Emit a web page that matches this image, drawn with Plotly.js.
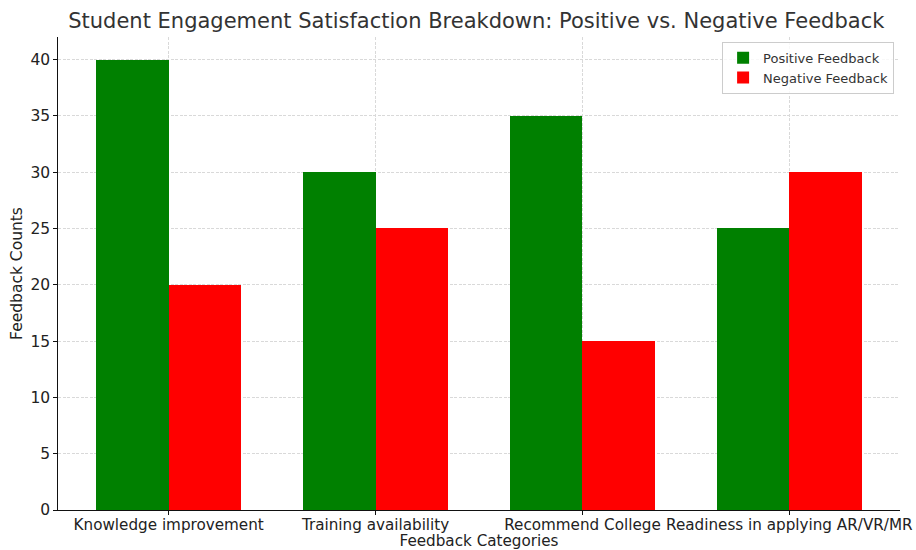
<!DOCTYPE html>
<html>
<head>
<meta charset="utf-8">
<script src="https://cdn.plot.ly/plotly-3.0.1.min.js"></script>
<style>html,body{margin:0;padding:0;background:#fff;}#chart{width:916px;height:550px;}</style>
</head>
<body>
<div id="chart"></div>
<script>
var categories = ["Knowledge improvement", "Training availability", "Recommend College", "Readiness in applying AR/VR/MR"];
var positiveFeedback = [40, 30, 35, 25];
var negativeFeedback = [20, 25, 15, 30];
var yTicks = [0, 5, 10, 15, 20, 25, 30, 35, 40];

var idx = categories.map(function(_, i){ return i; });
var barWidth = 0.35;

var traces = [
  {type: "bar", name: "Positive Feedback", x: idx, y: positiveFeedback,
   offset: -barWidth, width: barWidth, marker: {color: "#008000"}, hoverinfo: "skip"},
  {type: "bar", name: "Negative Feedback", x: idx, y: negativeFeedback,
   offset: 0, width: barWidth, marker: {color: "#ff0000"}, hoverinfo: "skip"}
];

var font = "DejaVu Sans, sans-serif";
var layout = {
  width: 916, height: 550,
  margin: {l: 58, r: 16, t: 37, b: 40},
  paper_bgcolor: "#fff", plot_bgcolor: "#fff",
  font: {family: font, color: "#333333", size: 14},
  title: {text: "Student Engagement Satisfaction Breakdown: Positive vs. Negative Feedback",
          font: {family: font, size: 21, color: "#333333"}, x: 0.52, xanchor: "center",
          yref: "container", y: 0.975, yanchor: "top"},
  bargap: 0,
  showlegend: true,
  legend: {x: 0.993, xanchor: "right", y: 0.99, yanchor: "top",
           bgcolor: "rgba(255,255,255,0.8)", bordercolor: "#cccccc", borderwidth: 1,
           font: {family: font, size: 13, color: "#333333"}, traceorder: "normal",
           tracegroupgap: 0, itemwidth: 30},
  xaxis: {
    range: [-0.535, 3.535], tickmode: "array", tickvals: idx, ticktext: categories,
    showgrid: true, gridcolor: "#d9d9d9", griddash: "3px,1.5px", gridwidth: 1,
    showline: true, linecolor: "#111111", linewidth: 1.2, mirror: false,
    ticks: "outside", ticklen: 3.5, tickcolor: "#111111", zeroline: false,
    ticklabeloverflow: "allow", ticklabelstandoff: -3,
    tickfont: {family: font, size: 15.2, color: "#222222"},
    title: {text: "Feedback Categories", font: {family: font, size: 15.2, color: "#222222"}, standoff: 4},
    automargin: false
  },
  yaxis: {
    range: [0, 42], tickmode: "array", tickvals: yTicks,
    showgrid: true, gridcolor: "#d9d9d9", griddash: "3px,1.5px", gridwidth: 1,
    showline: true, linecolor: "#111111", linewidth: 1.2, zeroline: false,
    ticks: "outside", ticklen: 3.5, tickcolor: "#111111",
    tickfont: {family: font, size: 15.5, color: "#222222"},
    title: {text: "Feedback Counts", font: {family: font, size: 15.5, color: "#222222"}, standoff: 4},
    automargin: false
  }
};

Plotly.newPlot("chart", traces, layout, {displayModeBar: false, staticPlot: true});
</script>
</body>
</html>
